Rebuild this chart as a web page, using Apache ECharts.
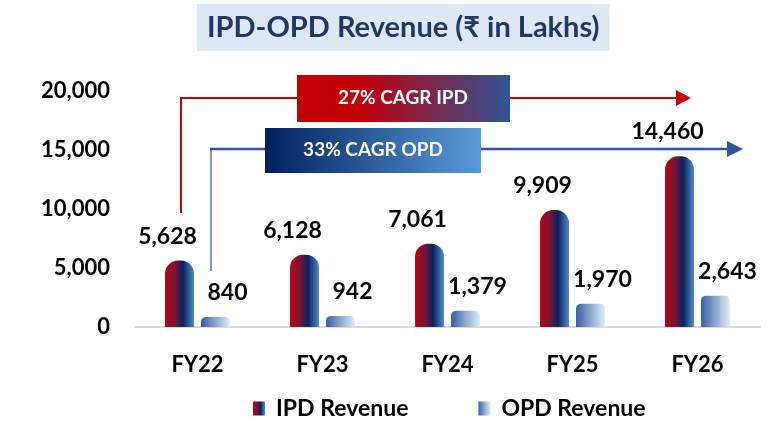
<!DOCTYPE html>
<html lang="en">
<head>
	<meta charset="UTF-8">
	<title>IPD-OPD Revenue</title>
	<script src="https://cdn.jsdelivr.net/npm/echarts@6/dist/echarts.min.js"></script>
	<style>
		* { margin: 0; padding: 0; }
		body, html, #main { height: 100%; width: 100%; background: #fff; }
	</style>
</head>
<body>
	<div id="main"></div>
	<script>
		const years = ['FY22', 'FY23', 'FY24', 'FY25', 'FY26'];
		const ipdRevenue = [5628, 6128, 7061, 9909, 14460];
		const opdRevenue = [840, 942, 1379, 1970, 2643];
		const cagrNotes = ['27% CAGR IPD', '33% CAGR OPD'];

		const FONT = 'Lato, "Noto Sans", sans-serif';
		const chart = echarts.init(document.getElementById('main'));

		const ipdColor = new echarts.graphic.LinearGradient(0, 0, 1, 0, [
			{ offset: 0, color: '#c00010' },
			{ offset: 0.35, color: '#6e1838' },
			{ offset: 0.62, color: '#0a205e' },
			{ offset: 1, color: '#4f8ccc' }
		]);
		const opdColor = new echarts.graphic.LinearGradient(0, 0, 1, 0, [
			{ offset: 0, color: '#3560a2' },
			{ offset: 1, color: '#e2eef9' }
		]);

		const fmt = v => v.toLocaleString('en-US');

		const option = {
			animation: false,
			title: {
				text: 'IPD-OPD Revenue (₹ in Lakhs)',
				left: 197,
				top: 4,
				backgroundColor: '#dde8f4',
				padding: [9, 10, 9, 10],
				textStyle: { fontFamily: FONT, fontSize: 29, fontWeight: 'bold', color: '#1f3864' }
			},
			grid: { left: 135, right: 16, top: 91, bottom: 97 },
			legend: {
				top: 392,
				left: 248,
				itemWidth: 12,
				itemHeight: 14,
				itemGap: 70,
				icon: 'rect',
				textStyle: { fontFamily: FONT, fontSize: 23, fontWeight: 'bold', color: '#000', padding: [0, 0, 0, 6] },
				data: ['IPD Revenue', 'OPD Revenue']
			},
			xAxis: {
				type: 'category',
				data: years,
				axisLine: { lineStyle: { color: '#d9d9d9', width: 2 } },
				axisTick: { show: false },
				axisLabel: { margin: 27, fontFamily: FONT, fontSize: 22, fontWeight: 'bold', color: '#000' }
			},
			yAxis: {
				type: 'value',
				min: 0,
				max: 20000,
				interval: 5000,
				splitLine: { show: false },
				axisLine: { show: false },
				axisLabel: { margin: 25, fontFamily: FONT, fontSize: 22, fontWeight: 'bold', color: '#000', formatter: fmt }
			},
			series: [
				{
					name: 'IPD Revenue',
					type: 'bar',
					data: ipdRevenue,
					barWidth: 29,
					barGap: '24%',
					itemStyle: { color: ipdColor, borderRadius: [13, 13, 0, 0] },
					label: {
						show: true, position: 'top', distance: 13, offset: [-12, 0],
						fontFamily: FONT, fontSize: 23, fontWeight: 'bold', color: '#000',
						formatter: p => fmt(p.value)
					}
				},
				{
					name: 'OPD Revenue',
					type: 'bar',
					data: opdRevenue,
					barWidth: 29,
					itemStyle: { color: opdColor, borderRadius: [5, 5, 0, 0] },
					label: {
						show: true, position: 'top', distance: 13, offset: [12, 0],
						fontFamily: FONT, fontSize: 23, fontWeight: 'bold', color: '#000',
						formatter: p => fmt(p.value)
					}
				}
			],
			graphic: [
				// red IPD arrow
				{ type: 'polyline', z: 10, shape: { points: [[181, 213], [181, 98], [680, 98]] }, style: { stroke: '#c8000a', lineWidth: 2, fill: null } },
				{ type: 'polygon', z: 10, shape: { points: [[676, 90], [691, 98], [676, 106]] }, style: { fill: '#c8000a' } },
				{
					type: 'rect', z: 11, shape: { x: 297, y: 75, width: 213, height: 47 },
					style: { fill: new echarts.graphic.LinearGradient(0, 0, 1, 0, [
						{ offset: 0, color: '#c00000' }, { offset: 0.3, color: '#bf0008' }, { offset: 1, color: '#2f5597' }]) }
				},
				{
					type: 'text', z: 12, x: 403, y: 98,
					style: { text: cagrNotes[0], fill: '#fff', font: 'bold 19px ' + FONT, align: 'center', verticalAlign: 'middle' }
				},
				// blue OPD arrow
				{ type: 'line', z: 10, shape: { x1: 211, y1: 271, x2: 211, y2: 149 }, style: { stroke: '#7f96c4', lineWidth: 2 } },
				{ type: 'line', z: 10, shape: { x1: 210, y1: 149, x2: 730, y2: 149 }, style: { stroke: '#2f5597', lineWidth: 2.5 } },
				{ type: 'polygon', z: 10, shape: { points: [[727, 141], [743, 149], [727, 157]] }, style: { fill: '#2f5597' } },
				{
					type: 'rect', z: 11, shape: { x: 265, y: 128, width: 216, height: 45 },
					style: { fill: new echarts.graphic.LinearGradient(0, 0, 1, 0, [
						{ offset: 0, color: '#00205e' }, { offset: 1, color: '#5b9bd9' }]) }
				},
				{
					type: 'text', z: 12, x: 373, y: 150,
					style: { text: cagrNotes[1], fill: '#fff', font: 'bold 19px ' + FONT, align: 'center', verticalAlign: 'middle' }
				}
			]
		};

		chart.setOption(option);
	</script>
</body>
</html>
